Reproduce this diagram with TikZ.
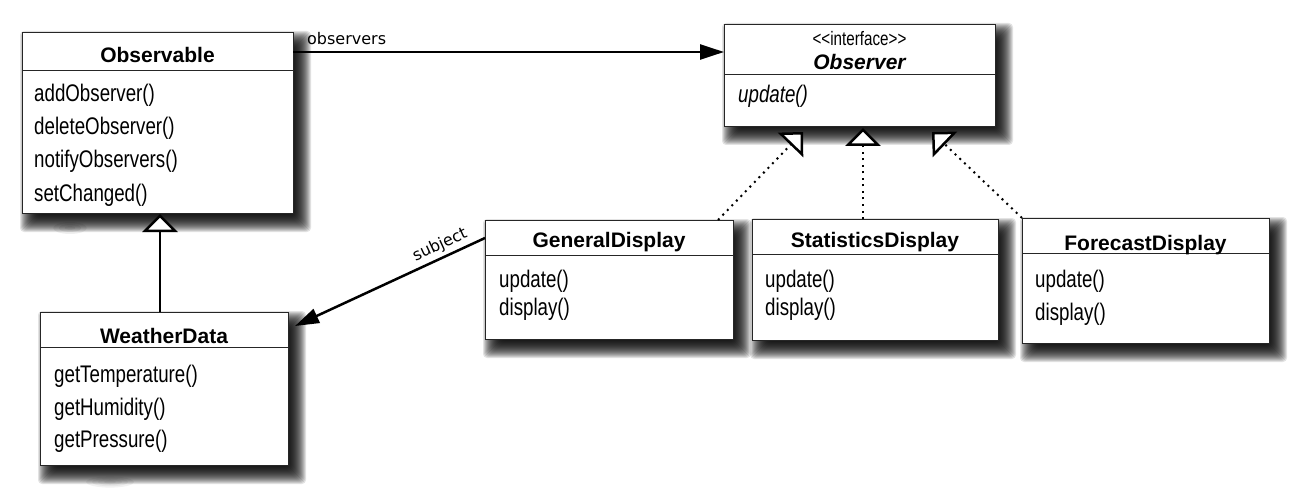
\documentclass[tikz,border=0pt]{standalone}
\usepackage{fontspec}
\setmainfont{Liberation Sans}
\newfontfamily\methfont{Liberation Sans}[FakeStretch=0.78]
\newfontfamily\labelfont{DejaVu Sans}
\usetikzlibrary{arrows.meta,calc}

\newcommand{\softshade}[4]{%
  \foreach \e in {-10,...,10}{%
    \fill[black, opacity=0.11, rounded corners=4pt] ({#1+8-\e},{#2+9-\e}) rectangle ({#3+8+\e},{#4+9+\e});
  }}

\begin{document}
\begin{tikzpicture}[x=1pt,y=-1pt,
  umlbox/.style={draw=black!85, line width=1.2pt, fill=white, inner sep=0pt, anchor=north west},
  divider/.style={draw=black!85, line width=1pt},
  ctitle/.style={font=\fontsize{21}{22}\selectfont\bfseries, inner sep=0pt, anchor=base},
  meth/.style={font=\methfont\fontsize{24}{25}\selectfont, anchor=base west, inner sep=0pt},
  assoc/.style={line width=2.5pt, -{Triangle[length=24pt,width=15pt]}},
  genl/.style={line width=2.5pt, -{Triangle[open,length=18pt,width=35pt,fill=white]}},
  real/.style={line width=2pt, dash pattern=on 2pt off 4.5pt, -{Triangle[open,length=18pt,width=35pt,fill=white,line width=2.5pt]}},
  lbl/.style={font=\labelfont\fontsize{16}{18}\selectfont, inner sep=0pt}
]
\useasboundingbox (0,0) rectangle (1303,489);
\fill[white] (0,0) rectangle (1303,489);

% smudges
\foreach \r in {4,8,12}{\fill[gray, opacity=0.12] (70,228) ellipse ({\r*1.4pt} and {\r*0.5pt});}
\foreach \r in {4,8,12,16}{\fill[gray, opacity=0.1] (110,482) ellipse ({\r*1.5pt} and {\r*0.35pt});}

% shadows
\softshade{22}{32}{293}{213}
\softshade{724}{24}{995}{126}
\softshade{40}{312}{288}{465}
\softshade{485}{220}{733}{339}
\softshade{752}{219}{998}{340}
\softshade{1022}{218}{1269}{343}

% Observable
\node[umlbox, minimum width=271pt, minimum height=181pt] (obs) at (22,32) {};
\draw[divider] (22,71) -- (293,71);
\node[ctitle] (obsT) at (157.5,63) {Observable};
\node[meth] (obs1) at (34,102) {addObserver()};
\node[meth] (obs2) at (34,135) {deleteObserver()};
\node[meth] (obs3) at (34,168) {notifyObservers()};
\node[meth] (obs4) at (34,201) {setChanged()};

% Observer interface
\node[umlbox, minimum width=271pt, minimum height=102pt] (ifc) at (724,24) {};
\draw[divider] (724,75) -- (995,75);
\node[font=\methfont\fontsize{19.5}{21}\selectfont, inner sep=0pt, anchor=base] (ifcS) at (859.5,46) {{<}{<}interface{>}{>}};
\node[ctitle, font=\fontsize{21}{22}\selectfont\bfseries\itshape] (ifcT) at (859.5,70) {Observer};
\node[meth, font=\methfont\itshape\fontsize{24}{25}\selectfont] (ifc1) at (738,103) {update()};

% WeatherData
\node[umlbox, minimum width=248pt, minimum height=153pt] (wd) at (40,312) {};
\draw[divider] (40,347) -- (288,347);
\node[ctitle] (wdT) at (164,343) {WeatherData};
\node[meth] (wd1) at (54,382) {getTemperature()};
\node[meth] (wd2) at (54,415) {getHumidity()};
\node[meth] (wd3) at (54,447) {getPressure()};

% GeneralDisplay
\node[umlbox, minimum width=248pt, minimum height=119pt] (gen) at (485,220) {};
\draw[divider] (485,255.5) -- (733,255.5);
\node[ctitle] (genT) at (609,247) {GeneralDisplay};
\node[meth] (gen1) at (499,287) {update()};
\node[meth] (gen2) at (499,315) {display()};

% StatisticsDisplay
\node[umlbox, minimum width=246pt, minimum height=121pt] (stat) at (752,219) {};
\draw[divider] (752,254) -- (998,254);
\node[ctitle] (statT) at (875,247) {StatisticsDisplay};
\node[meth] (stat1) at (765,287) {update()};
\node[meth] (stat2) at (765,315) {display()};

% ForecastDisplay
\node[umlbox, minimum width=247pt, minimum height=125pt] (fore) at (1022,218) {};
\draw[divider] (1022,253) -- (1269,253);
\node[ctitle] (foreT) at (1145.5,250) {ForecastDisplay};
\node[meth] (fore1) at (1035,287) {update()};
\node[meth] (fore2) at (1035,320) {display()};

% connector end points
\coordinate (obsOut) at (293,52);
\coordinate (ifcIn) at (724,52);
\coordinate (genOut) at (485,238);
\coordinate (wdIn) at (295,326);
\coordinate (wdUp) at (160,312);
\coordinate (obsDown) at (160,214);
\coordinate (genUp) at (718,220);
\coordinate (tipL) at (803,132);
\coordinate (statUp) at (863,219);
\coordinate (tipM) at (863,128);
\coordinate (foreUp) at (1022,218);
\coordinate (tipR) at (932,132);

% connectors
\draw[assoc] (obsOut) -- (ifcIn);
\node[lbl, anchor=base west] (obsL) at (307,45) {observers};
\draw[assoc] (genOut) -- (wdIn);
\node[lbl, rotate=24.8] (subjL) at (440,245) {subject};
\draw[genl] (wdUp) -- (obsDown);
\draw[real] (genUp) -- (tipL);
\draw[real] (statUp) -- (tipM);
\draw[real] (foreUp) -- (tipR);
\end{tikzpicture}
\end{document}
